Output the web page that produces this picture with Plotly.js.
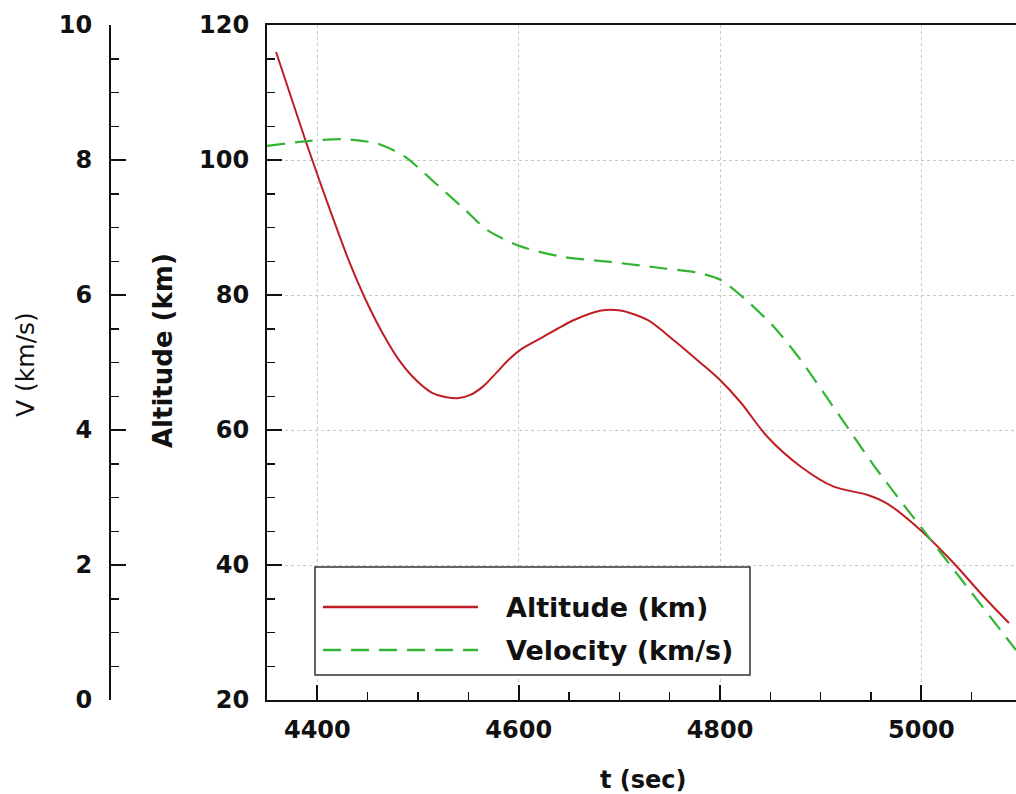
<!DOCTYPE html>
<html>
<head>
<meta charset="utf-8">
<script src="https://cdn.plot.ly/plotly-3.0.1.min.js"></script>
<style>html,body{margin:0;padding:0;background:#fff;}#chart{width:1016px;height:794px;}</style>
</head>
<body>
<div id="chart"></div>
<script>
// Altitude (km) vs time (sec)
const timeAlt = [4359, 4388, 4402, 4415, 4431, 4448, 4465, 4481, 4498, 4514, 4527, 4539, 4552, 4565, 4578, 4590, 4602, 4622, 4655, 4682, 4701, 4728, 4754, 4781, 4800, 4821, 4847, 4880, 4913, 4946, 4966, 4999, 5032, 5062, 5087];
const altitude = [116.0, 103.0, 97.0, 91.6, 85.2, 79.3, 74.3, 70.4, 67.4, 65.5, 64.9, 64.7, 65.2, 66.5, 68.5, 70.4, 71.9, 73.6, 76.3, 77.7, 77.7, 76.3, 73.3, 69.9, 67.4, 64.0, 59.0, 54.6, 51.6, 50.4, 49.1, 45.2, 40.3, 35.3, 31.4];
// Velocity (km/s) vs time (sec)
const timeVel = [4350, 4390, 4425, 4458, 4472, 4488, 4503, 4517, 4547, 4569, 4602, 4642, 4691, 4741, 4781, 4801, 4824, 4854, 4880, 4903, 4927, 4953, 4983, 5009, 5039, 5069, 5094];
const velocity = [8.21, 8.28, 8.31, 8.25, 8.17, 8.04, 7.85, 7.66, 7.26, 6.96, 6.72, 6.57, 6.49, 6.40, 6.32, 6.22, 5.95, 5.52, 5.04, 4.55, 4.03, 3.47, 2.88, 2.38, 1.80, 1.22, 0.74];

const seriesNames = ["Altitude (km)", "Velocity (km/s)"];
const xTitle = "t (sec)";
const yTitle = "Altitude (km)";
const y2Title = "V (km/s)";

const W = 1016, PB = 700, PH = 675;
const px = v => v / W;
const py = v => (PB - v) / PH;

const redC = "#bf1e24";
const greenC = "#33b533";
const font = "DejaVu Sans";

const traces = [
  {x: timeAlt, y: altitude, name: seriesNames[0], type: "scatter", mode: "lines",
   line: {color: redC, width: 2, shape: "spline", smoothing: 0.8}, yaxis: "y", showlegend: false},
  {x: timeVel, y: velocity, name: seriesNames[1], type: "scatter", mode: "lines",
   line: {color: greenC, width: 2.2, dash: "18px,10px", shape: "spline", smoothing: 0.8}, yaxis: "y2", showlegend: false}
];

const tickFont = {family: font, size: 24, color: "#111", weight: "bold"};

const layout = {
  width: 1016, height: 794,
  margin: {l: 0, r: 0, t: 25, b: 94, pad: 0},
  paper_bgcolor: "#fff", plot_bgcolor: "#fff",
  showlegend: false,
  xaxis: {
    domain: [267 / W, 1], range: [4350, 5094], dtick: 200, tick0: 4400,
    showline: true, linecolor: "#111", linewidth: 2, mirror: true,
    ticks: "inside", ticklen: 15, tickwidth: 2, tickcolor: "#111",
    minor: {dtick: 50, ticks: "inside", ticklen: 8, tickwidth: 1.5, tickcolor: "#111", showgrid: false},
    showgrid: true, gridcolor: "#c8c8c8", gridwidth: 1, griddash: "dot",
    zeroline: false, tickfont: tickFont, ticklabelstandoff: 7
  },
  yaxis: {
    range: [20, 120], dtick: 20, tick0: 20, anchor: "x",
    showline: true, linecolor: "#111", linewidth: 2,
    ticks: "inside", ticklen: 15, tickwidth: 2, tickcolor: "#111",
    minor: {dtick: 5, ticks: "inside", ticklen: 8, tickwidth: 1.5, tickcolor: "#111", showgrid: false},
    showgrid: true, gridcolor: "#c8c8c8", gridwidth: 1, griddash: "dot",
    zeroline: false, tickfont: tickFont, ticklabelstandoff: 11
  },
  yaxis2: {
    range: [0, 10], dtick: 2, tick0: 0, overlaying: "y", anchor: "free", side: "left",
    position: 110 / W,
    showline: true, linecolor: "#111", linewidth: 2,
    ticks: "inside", ticklen: 15, tickwidth: 2, tickcolor: "#111",
    minor: {dtick: 0.5, ticks: "inside", ticklen: 8, tickwidth: 1.5, tickcolor: "#111", showgrid: false},
    showgrid: false, zeroline: false, tickfont: tickFont, ticklabelstandoff: 12
  },
  shapes: [
    {type: "rect", xref: "paper", yref: "paper", x0: px(315), x1: px(750), y0: py(675), y1: py(567),
     line: {color: "#333", width: 1.5}, fillcolor: "#fff", layer: "above"},
    {type: "line", xref: "paper", yref: "paper", x0: px(323), x1: px(478), y0: py(607), y1: py(607),
     line: {color: redC, width: 2.5}, layer: "above"},
    {type: "line", xref: "paper", yref: "paper", x0: px(323), x1: px(478), y0: py(650), y1: py(650),
     line: {color: greenC, width: 2.5, dash: "18px,10px"}, layer: "above"}
  ],
  annotations: [
    {text: seriesNames[0], xref: "paper", yref: "paper", x: px(504), y: py(607), xanchor: "left", yanchor: "middle",
     showarrow: false, font: {family: font, size: 27, color: "#111", weight: "bold"}},
    {text: seriesNames[1], xref: "paper", yref: "paper", x: px(504), y: py(650), xanchor: "left", yanchor: "middle",
     showarrow: false, font: {family: font, size: 27, color: "#111", weight: "bold"}},
    {text: xTitle, xref: "paper", yref: "paper", x: px(643), y: py(780), xanchor: "center", yanchor: "middle",
     showarrow: false, font: {family: font, size: 24, color: "#111", weight: "bold"}},
    {text: yTitle, xref: "paper", yref: "paper", x: px(163), y: py(351), xanchor: "center", yanchor: "middle",
     textangle: -90, showarrow: false, font: {family: font, size: 26, color: "#111", weight: "bold"}},
    {text: y2Title, xref: "paper", yref: "paper", x: px(25), y: py(365), xanchor: "center", yanchor: "middle",
     textangle: -90, showarrow: false, font: {family: font, size: 25, color: "#111"}}
  ]
};

Plotly.newPlot("chart", traces, layout, {displayModeBar: false, staticPlot: true});
</script>
</body>
</html>
